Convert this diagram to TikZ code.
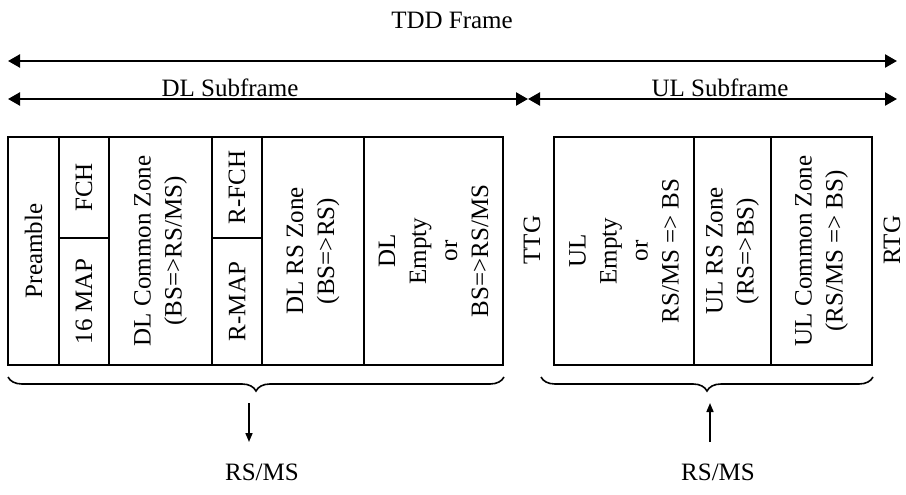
\documentclass[tikz,border=0pt]{standalone}
\usepackage{fontspec}
\setmainfont{Liberation Serif}
\usetikzlibrary{arrows.meta,decorations.pathreplacing}
\begin{document}
\begin{tikzpicture}[x=1pt,y=1pt,
  every node/.style={font=\fontsize{25}{31}\selectfont},
  cell/.style={draw, line width=1.7pt, rotate=90, align=center, inner sep=0pt},
  vlabel/.style={rotate=90, inner sep=0pt},
  bigarrow/.style={{Triangle[length=12pt,width=13pt]}-{Triangle[length=12pt,width=13pt]}, line width=2.3pt},
  smallarrow/.style={-{Triangle[length=9pt,width=7pt]}, line width=1.6pt},
  bracestyle/.style={decorate, decoration={brace, mirror, amplitude=14pt}, line width=1.6pt}]
\useasboundingbox (0,0) rectangle (906,-495);

% top arrows
\coordinate (tdlL) at (8,-61);
\coordinate (tdlR) at (897,-61);
\coordinate (dlL) at (8,-99);
\coordinate (mid) at (528,-99);
\coordinate (ulR) at (897,-99);
\draw[bigarrow] (tdlL) -- (tdlR);
\draw[bigarrow] (dlL) -- (mid);
\draw[bigarrow] (mid) -- (ulR);
\node[anchor=base] (tdd) at (452,-29) {TDD Frame};
\node[anchor=base] (dlsf) at (230,-97) {DL Subframe};
\node[anchor=base] (ulsf) at (720,-97) {UL Subframe};

% DL cells
\node[cell, minimum width=228pt, minimum height=51pt] (pre) at (33.5,-251) {Preamble};
\node[cell, minimum width=101pt, minimum height=50pt] (fch) at (84,-187.5) {FCH};
\node[cell, minimum width=127pt, minimum height=50pt] (map) at (84,-301.5) {16 MAP};
\node[cell, minimum width=228pt, minimum height=103pt] (dlc) at (160.5,-251) {DL Common Zone\\(BS=>RS/MS)};
\node[cell, minimum width=101pt, minimum height=50pt] (rfch) at (237,-187.5) {R-FCH};
\node[cell, minimum width=127pt, minimum height=50pt] (rmap) at (237,-301.5) {R-MAP};
\node[cell, minimum width=228pt, minimum height=102pt] (dlrs) at (313,-251) {DL RS Zone\\(BS=>RS)};
\node[cell, minimum width=228pt, minimum height=139pt] (dle) at (433.5,-251) {DL\\Empty\\or\\BS=>RS/MS};

\node[vlabel] (ttg) at (532,-240) {TTG};

% UL cells
\node[cell, minimum width=228pt, minimum height=140pt] (ule) at (624,-251) {UL\\Empty\\or\\RS/MS => BS};
\node[cell, minimum width=228pt, minimum height=77pt] (ulrs) at (732.5,-251) {UL RS Zone\\(RS=>BS)};
\node[cell, minimum width=228pt, minimum height=101pt] (ulc) at (821.5,-251) {UL Common Zone\\(RS/MS => BS)};

\node[vlabel] (rtg) at (892,-240) {RTG};

% braces
\coordinate (b1a) at (8,-377);
\coordinate (b1b) at (504,-377);
\coordinate (b2a) at (541,-377);
\coordinate (b2b) at (873,-377);
\draw[bracestyle] (b1a) -- (b1b);
\draw[bracestyle] (b2a) -- (b2b);

% arrows to RS/MS
\coordinate (dA) at (249,-403);
\coordinate (dB) at (249,-442);
\coordinate (uA) at (710,-442);
\coordinate (uB) at (710,-403);
\draw[smallarrow] (dA) -- (dB);
\draw[smallarrow] (uA) -- (uB);
\node (rs1) at (262,-472) {RS/MS};
\node (rs2) at (718,-472) {RS/MS};
\end{tikzpicture}
\end{document}
